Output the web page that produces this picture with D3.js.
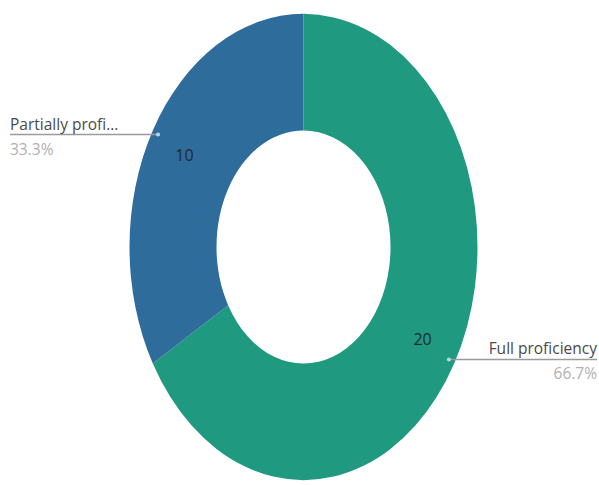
<!DOCTYPE html>
<html>
<head>
<meta charset="utf-8">
<script src="https://cdn.jsdelivr.net/npm/d3@7"></script>
<style>
  html, body { margin: 0; padding: 0; background: #fff; }
  svg { display: block; }
  text { font-family: "Open Sans", "Segoe UI", sans-serif; }
</style>
</head>
<body>
<svg id="chart" width="599" height="485"></svg>
<script>
// Proficiency breakdown
const categories = ["Full proficiency", "Partially profi..."];
const values = [20, 10];
const colors = ["#1f9a81", "#2e6c9b"];

const W = 599, H = 485;
const cx = 303.5, cy = 247;       // ring centre
const R = 174;                     // horizontal outer radius
const ky = 1.34;                   // vertical stretch of the ring
const innerFrac = 0.5;

const svg = d3.select("#chart");
const total = d3.sum(values);
const data = categories.map((c, i) => ({ name: c, value: values[i], color: colors[i] }));

const pie = d3.pie().sort(null).value(d => d.value);
const arcs = pie(data);

const arc = d3.arc().innerRadius(R * innerFrac).outerRadius(R);
const labelArc = d3.arc().innerRadius(R * 0.79).outerRadius(R * 0.79);
const dotArc = d3.arc().innerRadius(R * 0.965).outerRadius(R * 0.965);

const ring = svg.append("g")
  .attr("transform", `translate(${cx},${cy}) scale(1,${ky})`);

ring.selectAll("path")
  .data(arcs)
  .join("path")
  .attr("d", arc)
  .attr("fill", d => d.data.color);

// position helper: map unscaled arc coordinates to page
const toPage = p => [cx + p[0], cy + p[1] * ky];

// value labels inside the ring
svg.selectAll("text.val")
  .data(arcs)
  .join("text")
  .attr("class", "val")
  .attr("x", d => toPage(labelArc.centroid(d))[0])
  .attr("y", d => toPage(labelArc.centroid(d))[1])
  .attr("text-anchor", "middle")
  .attr("dominant-baseline", "central")
  .attr("font-size", 16)
  .attr("fill", "#1d2b2f")
  .text(d => d.value);

// leader lines + outside labels
const fmt = d3.format(".1%");
arcs.forEach(d => {
  const p = toPage(dotArc.centroid(d));
  const mid = (d.startAngle + d.endAngle) / 2;
  const right = Math.sin(mid) > 0;
  const x2 = right ? 597 : 10;
  const g = svg.append("g");
  g.append("line")
    .attr("x1", p[0]).attr("y1", p[1])
    .attr("x2", x2).attr("y2", p[1])
    .attr("stroke", "#9a9a9a").attr("stroke-width", 1.5);
  g.append("circle")
    .attr("cx", p[0]).attr("cy", p[1]).attr("r", 2)
    .attr("fill", "#b8d8e8");
  g.append("text")
    .attr("x", x2).attr("y", p[1] - 5)
    .attr("text-anchor", right ? "end" : "start")
    .attr("font-size", 15.5)
    .attr("fill", "#4a4a4a")
    .text(d.data.name);
  g.append("text")
    .attr("x", x2).attr("y", p[1] + 20)
    .attr("text-anchor", right ? "end" : "start")
    .attr("font-size", 15.5)
    .attr("fill", "#b0b0b0")
    .text(fmt(d.value / total));
});
</script>
</body>
</html>
